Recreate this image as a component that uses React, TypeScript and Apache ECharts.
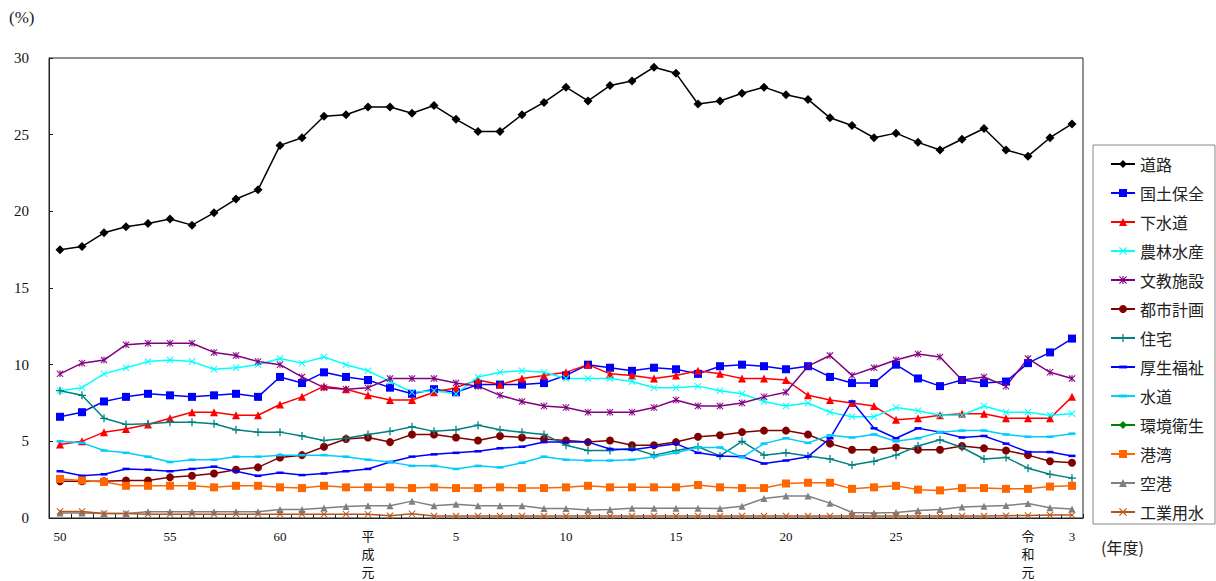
import React, { useEffect, useRef } from "react";
import * as echarts from "echarts";

// Fiscal years Showa 50 (1975) .. Reiwa 3 (2021)
const years: number[] = [];
for (let y = 1975; y <= 2021; y++) years.push(y);

const tickLabels: Record<number, string> = {
  1975: "50",
  1980: "55",
  1985: "60",
  1989: "平\n成\n元",
  1993: "5",
  1998: "10",
  2003: "15",
  2008: "20",
  2013: "25",
  2019: "令\n和\n元",
  2021: "3",
};

const roads = [17.5,17.7,18.6,19.0,19.2,19.5,19.1,19.9,20.8,21.4,24.3,24.8,26.2,26.3,26.8,26.8,26.4,26.9,26.0,25.2,25.2,26.3,27.1,28.1,27.2,28.2,28.5,29.4,29.0,27.0,27.2,27.7,28.1,27.6,27.3,26.1,25.6,24.8,25.1,24.5,24.0,24.7,25.4,24.0,23.6,24.8,25.7];
const landConservation = [6.6,6.9,7.6,7.9,8.1,8.0,7.9,8.0,8.1,7.9,9.2,8.8,9.5,9.2,9.0,8.5,8.1,8.4,8.2,8.7,8.7,8.7,8.8,9.3,10.0,9.8,9.6,9.8,9.7,9.4,9.9,10.0,9.9,9.7,9.9,9.2,8.8,8.8,10.0,9.1,8.6,9.0,8.8,8.9,10.1,10.8,11.7];
const sewerage = [4.8,5.0,5.6,5.8,6.1,6.5,6.9,6.9,6.7,6.7,7.4,7.9,8.6,8.4,8.0,7.7,7.7,8.2,8.5,9.0,8.7,9.1,9.3,9.5,10.0,9.4,9.3,9.1,9.3,9.6,9.4,9.1,9.1,9.0,8.0,7.7,7.5,7.3,6.4,6.5,6.7,6.8,6.8,6.5,6.5,6.5,7.9];
const agriculture = [8.3,8.5,9.4,9.8,10.2,10.3,10.2,9.7,9.8,10.0,10.4,10.1,10.5,10.0,9.6,8.9,8.2,8.3,8.1,9.2,9.5,9.6,9.5,9.1,9.1,9.1,8.9,8.5,8.5,8.6,8.3,8.1,7.6,7.3,7.5,6.9,6.6,6.6,7.2,7.0,6.7,6.7,7.3,6.9,6.9,6.7,6.8];
const education = [9.4,10.1,10.3,11.3,11.4,11.4,11.4,10.8,10.6,10.2,10.0,9.2,8.5,8.4,8.5,9.1,9.1,9.1,8.8,8.6,8.0,7.6,7.3,7.2,6.9,6.9,6.9,7.2,7.7,7.3,7.3,7.5,7.9,8.2,9.9,10.6,9.3,9.8,10.3,10.7,10.5,9.0,9.2,8.6,10.4,9.5,9.1];
const cityPlanning = [2.4,2.4,2.4,2.45,2.45,2.65,2.75,2.9,3.15,3.3,3.95,4.1,4.65,5.15,5.25,4.95,5.45,5.45,5.25,5.05,5.35,5.25,5.15,5.05,4.95,5.05,4.75,4.75,4.95,5.3,5.4,5.6,5.7,5.7,5.45,4.85,4.45,4.45,4.6,4.45,4.45,4.7,4.55,4.4,4.1,3.7,3.6];
const housing = [8.3,8.0,6.5,6.1,6.15,6.25,6.25,6.15,5.75,5.6,5.6,5.35,5.05,5.2,5.45,5.65,5.95,5.65,5.75,6.05,5.75,5.6,5.45,4.75,4.4,4.4,4.55,4.1,4.4,4.65,4.05,5.0,4.1,4.25,4.05,3.85,3.45,3.7,4.1,4.7,5.1,4.6,3.85,3.95,3.25,2.85,2.6];
const welfare = [3.05,2.75,2.85,3.2,3.15,3.05,3.2,3.35,3.05,2.75,2.95,2.8,2.9,3.05,3.2,3.65,4.0,4.15,4.25,4.35,4.55,4.65,4.95,4.95,4.95,4.5,4.45,4.65,4.85,4.25,4.05,4.0,3.55,3.75,4.0,5.2,7.6,5.85,5.2,5.85,5.6,5.25,5.35,4.85,4.3,4.3,4.05];
const waterSupply = [5.0,4.9,4.4,4.25,4.0,3.65,3.8,3.8,4.0,4.0,4.1,4.1,4.1,4.0,3.8,3.65,3.4,3.4,3.2,3.4,3.3,3.6,4.0,3.8,3.75,3.75,3.8,4.0,4.25,4.6,4.6,3.95,4.85,5.2,4.9,5.4,5.25,5.45,5.0,5.2,5.6,5.7,5.7,5.45,5.3,5.3,5.5];
const sanitation: (number | null)[] = years.map(() => null);
const ports = [2.55,2.45,2.35,2.1,2.1,2.1,2.1,2.0,2.1,2.1,2.0,1.95,2.1,2.0,2.0,2.0,1.95,2.0,1.95,1.95,2.0,1.95,1.95,2.0,2.1,2.0,2.0,2.0,2.0,2.15,2.0,1.95,1.95,2.25,2.3,2.3,1.9,2.0,2.1,1.85,1.8,1.95,1.95,1.9,1.9,2.05,2.1];
const airports = [0.32,0.32,0.3,0.3,0.4,0.4,0.4,0.4,0.4,0.4,0.55,0.55,0.65,0.75,0.8,0.8,1.1,0.8,0.9,0.8,0.8,0.8,0.62,0.62,0.52,0.55,0.64,0.64,0.64,0.64,0.62,0.77,1.27,1.44,1.44,0.97,0.36,0.32,0.36,0.49,0.56,0.71,0.77,0.82,0.94,0.67,0.58];
const industrialWater = [0.43,0.43,0.3,0.3,0.25,0.25,0.25,0.25,0.25,0.25,0.25,0.25,0.25,0.25,0.25,0.15,0.27,0.13,0.13,0.13,0.13,0.13,0.13,0.13,0.13,0.13,0.13,0.13,0.13,0.13,0.13,0.13,0.13,0.13,0.13,0.13,0.13,0.13,0.13,0.13,0.13,0.13,0.13,0.15,0.17,0.2,0.2];

const X_PATH = "path://M1,0 L5,4 L9,0 L10,1 L6,5 L10,9 L9,10 L5,6 L1,10 L0,9 L4,5 L0,1 Z";
const STAR_PATH = "path://M1,0 L5,4 L9,0 L10,1 L6,5 L10,9 L9,10 L5,6 L1,10 L0,9 L4,5 L0,1 Z M4.3,0 L5.7,0 L5.7,10 L4.3,10 Z";
const PLUS_PATH = "path://M4.2,0 L5.8,0 L5.8,4.2 L10,4.2 L10,5.8 L5.8,5.8 L5.8,10 L4.2,10 L4.2,5.8 L0,5.8 L0,4.2 L4.2,4.2 Z";
// square bounding box (via moveTo points) so the dash keeps its proportions everywhere
const DASH_PATH = "path://M0,0 M10,10 M0,3.2 L10,3.2 L10,6.8 L0,6.8 Z";

type SeriesDef = {
  name: string;
  data: (number | null)[];
  color: string;
  symbol: string;
  size: number;
};

const seriesDefs: SeriesDef[] = [
  { name: "道路", data: roads, color: "#000000", symbol: "diamond", size: 9 },
  { name: "国土保全", data: landConservation, color: "#0000FF", symbol: "rect", size: 8 },
  { name: "下水道", data: sewerage, color: "#FF0000", symbol: "triangle", size: 8 },
  { name: "農林水産", data: agriculture, color: "#00FFFF", symbol: X_PATH, size: 7 },
  { name: "文教施設", data: education, color: "#800080", symbol: STAR_PATH, size: 7 },
  { name: "都市計画", data: cityPlanning, color: "#800000", symbol: "circle", size: 8 },
  { name: "住宅", data: housing, color: "#008080", symbol: PLUS_PATH, size: 8 },
  { name: "厚生福祉", data: welfare, color: "#0000FF", symbol: DASH_PATH, size: 7 },
  { name: "水道", data: waterSupply, color: "#00CCFF", symbol: DASH_PATH, size: 7 },
  { name: "環境衛生", data: sanitation, color: "#008000", symbol: "diamond", size: 8 },
  { name: "港湾", data: ports, color: "#FF6600", symbol: "rect", size: 8 },
  { name: "空港", data: airports, color: "#808080", symbol: "triangle", size: 7 },
  { name: "工業用水", data: industrialWater, color: "#B5541C", symbol: X_PATH, size: 7 },
];

const SERIF = '"Liberation Serif", "Noto Sans CJK JP", serif';
const JP = '"Noto Sans CJK JP", sans-serif';

export default function App() {
  const ref = useRef<HTMLDivElement>(null);

  useEffect(() => {
    if (!ref.current) return;
    const chart = echarts.init(ref.current, undefined, { renderer: "svg" });
    chart.setOption({
      animation: false,
      backgroundColor: "#ffffff",
      grid: {
        left: 49,
        right: 133,
        top: 58,
        bottom: 57,
        show: true,
        borderColor: "#222",
        borderWidth: 1,
      },
      xAxis: {
        type: "category",
        data: years.map(String),
        boundaryGap: true,
        axisLine: { show: true, lineStyle: { color: "#222", width: 1 } },
        axisTick: { show: true, inside: true, length: 4, interval: 0, lineStyle: { color: "#222" } },
        axisLabel: {
          interval: 0,
          margin: 9,
          fontSize: 13,
          lineHeight: 18,
          color: "#111",
          fontFamily: SERIF,
          formatter: (v: string) => tickLabels[Number(v)] ?? "",
        },
        splitLine: { show: false },
      },
      yAxis: {
        type: "value",
        min: 0,
        max: 30,
        interval: 5,
        axisLine: { show: true, lineStyle: { color: "#222", width: 1 } },
        axisTick: { show: true, inside: true, length: 4, lineStyle: { color: "#222" } },
        axisLabel: { margin: 20, fontSize: 15, color: "#111", fontFamily: SERIF },
        splitLine: { show: false },
      },
      legend: {
        orient: "vertical",
        left: 1093,
        top: 145,
        padding: [11, 11, 4, 17],
        itemGap: 13,
        itemWidth: 24,
        itemHeight: 10,
        borderColor: "#888",
        borderWidth: 1,
        textStyle: { fontSize: 16, lineHeight: 16, color: "#222", fontFamily: JP },
        data: seriesDefs.map((s) => s.name),
      },
      graphic: [
        {
          type: "text",
          left: 9,
          top: 9,
          style: { text: "(%)", fontSize: 17, fill: "#222", fontFamily: SERIF },
        },
        {
          type: "text",
          left: 1101,
          top: 539,
          style: { text: "(年度)", fontSize: 16, fill: "#222", fontFamily: JP },
        },
      ],
      series: seriesDefs.map((s) => ({
        name: s.name,
        type: "line",
        data: s.data,
        symbol: s.symbol,
        symbolSize: s.size,
        showSymbol: true,
        connectNulls: false,
        lineStyle: { color: s.color, width: 1.5 },
        itemStyle: { color: s.color, borderColor: s.color, borderWidth: 0 },
        emphasis: { disabled: true },
      })),
    });
    return () => chart.dispose();
  }, []);

  return (
    <div
      ref={ref}
      style={{ position: "fixed", left: 0, top: 0, width: 1216, height: 581 }}
    />
  );
}
